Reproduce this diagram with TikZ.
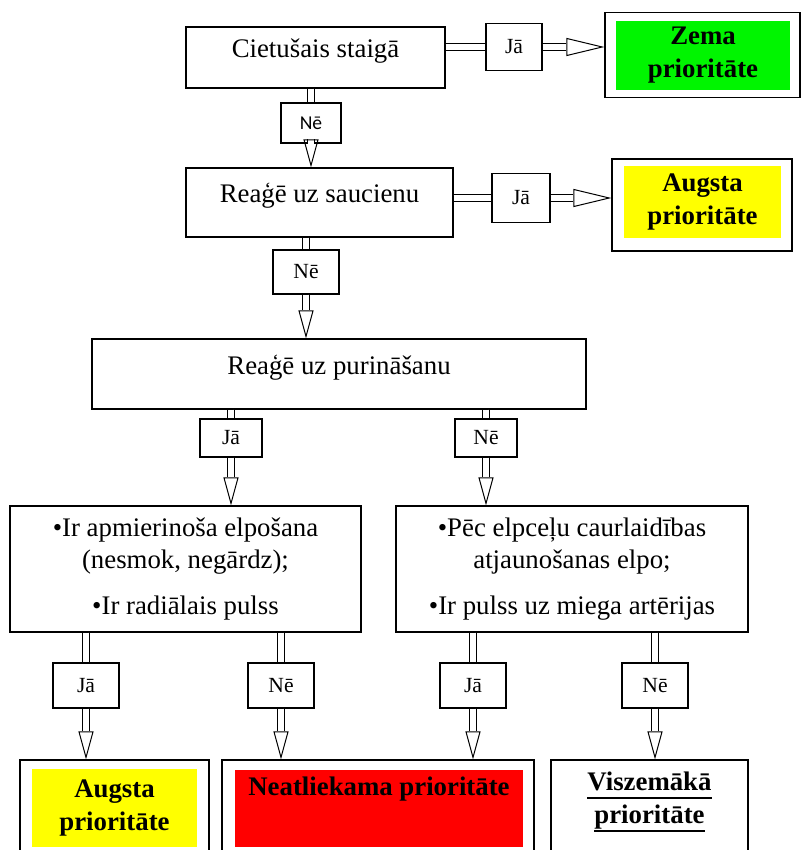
\documentclass[tikz,border=0pt]{standalone}
\usepackage{fontspec}
\setmainfont{Liberation Serif}
\newfontfamily\labelsans{Carlito}
\usetikzlibrary{positioning, arrows.meta}
\definecolor{lowgreen}{RGB}{0,245,0}
\definecolor{highyellow}{RGB}{255,255,0}
\definecolor{urgentred}{RGB}{255,0,0}
\newcommand\heavyul[1]{\setbox0\hbox{#1}\rlap{\copy0}\rule[-4.4pt]{\wd0}{1.2pt}}
\tikzset{%
	every check/.style={
		rectangle,
		draw,
		line width=0.6pt,
		align=center,
		inner sep=2pt,
		font=\fontsize{13.4}{16}\selectfont
	},
	check top/.style={text height=10pt, text depth=10pt},
	answer/.style={
		rectangle,
		draw,
		line width=0.6pt,
		inner sep=1pt,
		font=\fontsize{10.8}{13}\selectfont
	},
	answer sans/.style={answer, font=\labelsans\fontsize{9.8}{12}\selectfont},
	result/.style={rectangle, draw, line width=0.6pt},
	result text/.style={
		rectangle,
		align=center,
		inner sep=0pt,
		font=\bfseries\fontsize{13.4}{16.5}\selectfont
	},
	flow/.style={double, double distance=3pt, line width=0.5pt},
	flow head/.style={-{Triangle[open, length=14pt, width=7.5pt]}, line width=0.5pt,
		dash pattern=on 0pt off 4000pt},
	side head/.style={-{Triangle[open, length=19pt, width=9pt]}, line width=0.5pt,
		dash pattern=on 0pt off 4000pt},
}

\begin{document}
\begin{tikzpicture}[x=0.5pt, y=-0.5pt]
	\useasboundingbox (0,0) rectangle (802,850);
	\clip (0,0) rectangle (802,850);
	
	% questions
	\node [every check, check top, minimum width=129.5pt, minimum height=30.5pt] (walks) at (315.5,57.5) {Cietušais staigā};
	\node [every check, check top, minimum width=133.5pt, minimum height=34.5pt] (call) at (319.5,202.5) {Reaģē uz saucienu};
	\node [every check, check top, minimum width=247pt, minimum height=35pt] (shake) at (339,374) {Reaģē uz purināšanu};
	\node [every check, minimum width=175.5pt, minimum height=63pt] (breath) at (185.5,569)
		{•Ir apmierinoša elpošana\\(nesmok, negārdz);\\[7pt]•Ir radiālais pulss};
	\node [every check, minimum width=176pt, minimum height=63pt] (airway) at (572,569)
		{•Pēc elpceļu caurlaidības\\atjaunošanas elpo;\\[7pt]•Ir pulss uz miega artērijas};
	
	% answers
	\node [answer, minimum width=28pt, minimum height=23.5pt] (ja1) at (514,47) {Jā};
	\node [answer, minimum width=29pt, minimum height=24.5pt] (ja2) at (521,198) {Jā};
	\node [answer sans, minimum width=30pt, minimum height=20pt] (ne1) at (311,123) {Nē};
	\node [answer, minimum width=33pt, minimum height=22pt] (ne2) at (306,272) {Nē};
	\node [answer, minimum width=31pt, minimum height=19pt] (ja3) at (231,438) {Jā};
	\node [answer, minimum width=31pt, minimum height=19pt] (ne3) at (486,438) {Nē};
	\foreach \n/\l/\x in {ja4/Jā/86, ne4/Nē/281, ja5/Jā/473, ne5/Nē/655}
	\node [answer, minimum width=33pt, minimum height=22.5pt] (\n) at (\x,685.5) {\l};
	
	% results
	\node [result, minimum width=97.5pt, minimum height=42.5pt] (low) at (702.5,55.3) {};
	\node [result text, fill=lowgreen, minimum width=87pt, minimum height=34.5pt] (low-text) at (703,55.5) {Zema\\prioritāte};
	\node [result, minimum width=90pt, minimum height=46pt] (high) at (702,205) {};
	\node [result text, fill=highyellow, minimum width=78.5pt, minimum height=36pt] (high-text) at (702.5,202) {Augsta\\prioritāte};
	\node [result, minimum width=94.5pt, minimum height=60pt] (high2) at (114.5,820) {};
	\node [result text, fill=highyellow, minimum width=82.5pt, minimum height=39pt] (high2-text) at (114.5,808) {Augsta\\prioritāte};
	\node [result, minimum width=156pt, minimum height=60pt] (urgent) at (378,820) {};
	\node [result text, fill=urgentred, minimum width=144pt, minimum height=38.5pt, text height=10pt, text depth=23.5pt] (urgent-text) at (379,808.5) {Neatliekama prioritāte};
	\node [result, minimum width=98.5pt, minimum height=60pt] (lowest) at (649.5,820) {};
	\node [result text] (lowest-text) at (649.5,802) {\heavyul{Viszemākā}\\\heavyul{prioritāte}};
	
	% connectors
	\foreach \src/\lbl/\dst in {walks/ja1/low, call/ja2/high}
	{
		\draw [flow] (\src.east |- \lbl) -- (\lbl);
		\draw [flow, shorten >=19pt] (\lbl) -- (\lbl -| \dst.west);
		\draw [side head] (\lbl) -- (\lbl -| \dst.west);
	}
	
	\foreach \src/\lbl/\dst in {walks/ne1/call, call/ne2/shake, shake/ja3/breath, shake/ne3/airway,
		breath/ja4/high2, breath/ne4/urgent, airway/ja5/urgent, airway/ne5/lowest}
	{
		\draw [flow] (\src.south -| \lbl) -- (\lbl);
		\draw [flow, shorten >=14pt] (\lbl) -- (\lbl |- \dst.north);
		\draw [flow head] (\lbl) -- (\lbl |- \dst.north);
	}
	
\end{tikzpicture}
\end{document}
